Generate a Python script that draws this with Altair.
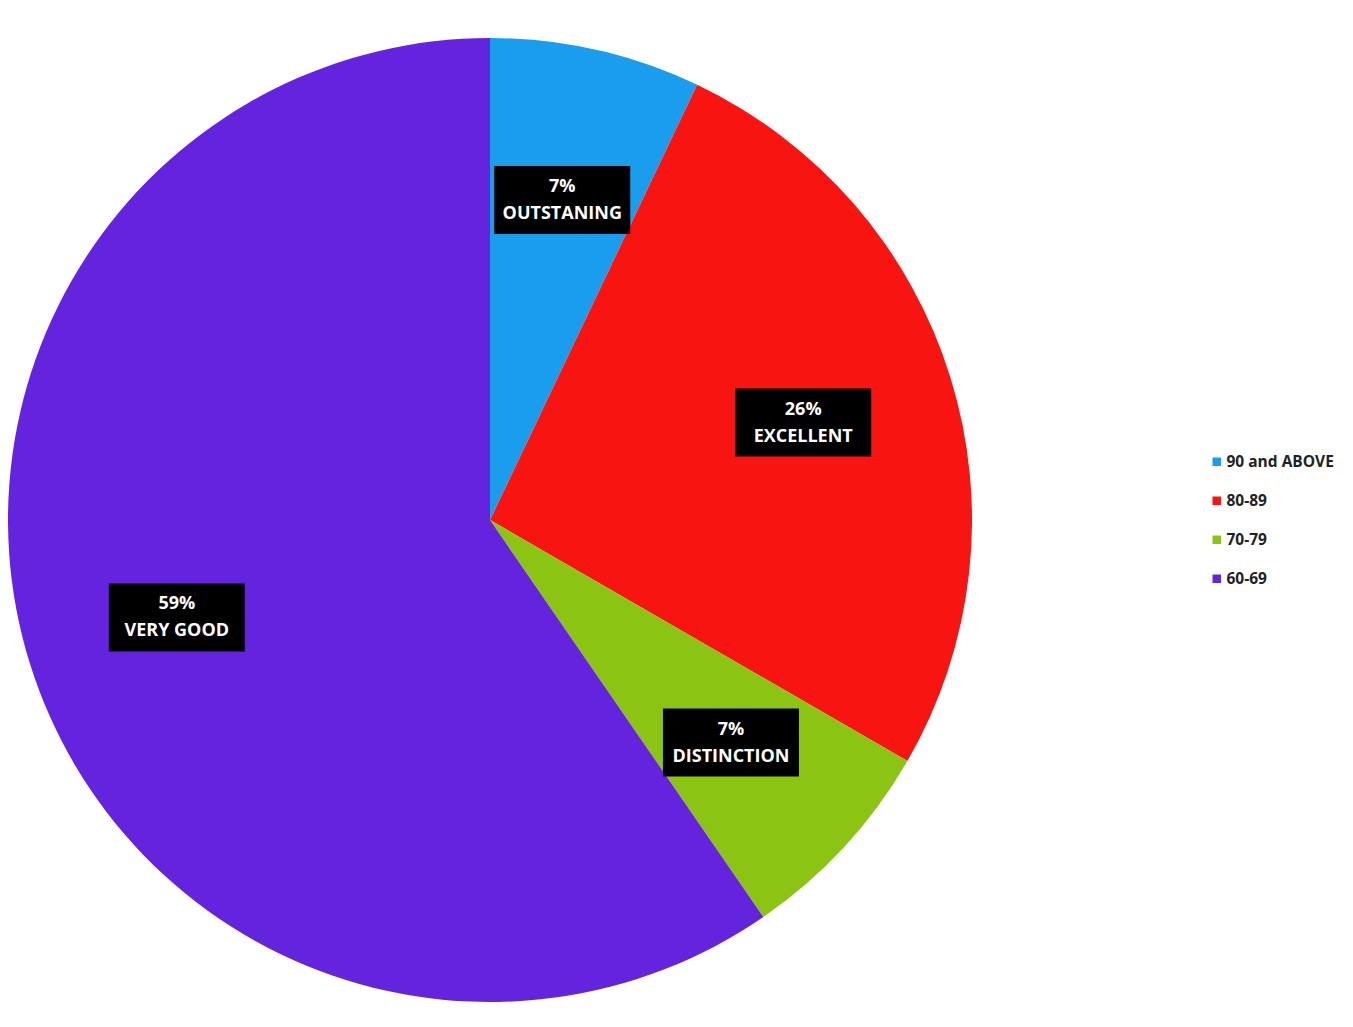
import altair as alt
import pandas as pd

categories = ["90 and ABOVE", "80-89", "70-79", "60-69"]
grades = ["OUTSTANING", "EXCELLENT", "DISTINCTION", "VERY GOOD"]
values = [7, 26, 7, 59]
colors = ["#1B9DEE", "#F81410", "#8CC414", "#6424DE"]

df = pd.DataFrame({
    "category": categories,
    "grade": grades,
    "value": values,
    "order": list(range(len(categories))),
})

W, H = 1337, 1011
CX, CY = 482, 512
R = 482
RL = 328

base = alt.Chart(df)

pie = base.mark_arc(outerRadius=R).encode(
    theta=alt.Theta("value:Q", stack=True),
    order=alt.Order("order:Q"),
    color=alt.Color(
        "category:N",
        scale=alt.Scale(domain=categories, range=colors),
        sort=categories,
        legend=alt.Legend(
            title=None, orient="none", legendX=1201, legendY=446,
            symbolType="square", symbolSize=72, labelFontSize=15.5,
            labelFont="Open Sans", labelFontWeight="bold",
            labelColor="#222222", rowPadding=22, labelOffset=2,
            symbolStrokeWidth=0, labelLimit=200,
        ),
    ),
    x=alt.value(CX),
    y=alt.value(CY),
)

lab = base.transform_window(
    cum="sum(value)", sort=[alt.SortField("order")], frame=[None, 0]
).transform_joinaggregate(
    total="sum(value)"
).transform_calculate(
    mid="(datum.cum - datum.value / 2) / datum.total * 2 * PI",
).transform_calculate(
    lx=f"{RL} * sin(datum.mid)",
    ly=f"{RL} * cos(datum.mid)",
    label="datum.value + '%\\n' + datum.grade",
)

xs = alt.Scale(domain=[-CX, W - CX], nice=False, zero=False)
ys = alt.Scale(domain=[CY - H, CY], nice=False, zero=False)

boxes = lab.mark_point(
    shape="M-1,-0.5H1V0.5H-1Z", size=18496, filled=True, color="black", opacity=1
).encode(
    x=alt.X("lx:Q", scale=xs, axis=None),
    y=alt.Y("ly:Q", scale=ys, axis=None),
)

texts = lab.mark_text(
    color="white", fontSize=18, fontWeight="bold", lineBreak="\n",
    font="Open Sans", lineHeight=27, baseline="middle", dy=-13,
).encode(
    x=alt.X("lx:Q", scale=xs, axis=None),
    y=alt.Y("ly:Q", scale=ys, axis=None),
    text="label:N",
)

chart = alt.layer(pie, boxes, texts).properties(
    width=W, height=H, padding=0, autosize=alt.AutoSizeParams(type="none"),
    background="white",
).configure_view(stroke=None)

chart.save("out.html", embed_options={"renderer": "svg", "actions": False})
